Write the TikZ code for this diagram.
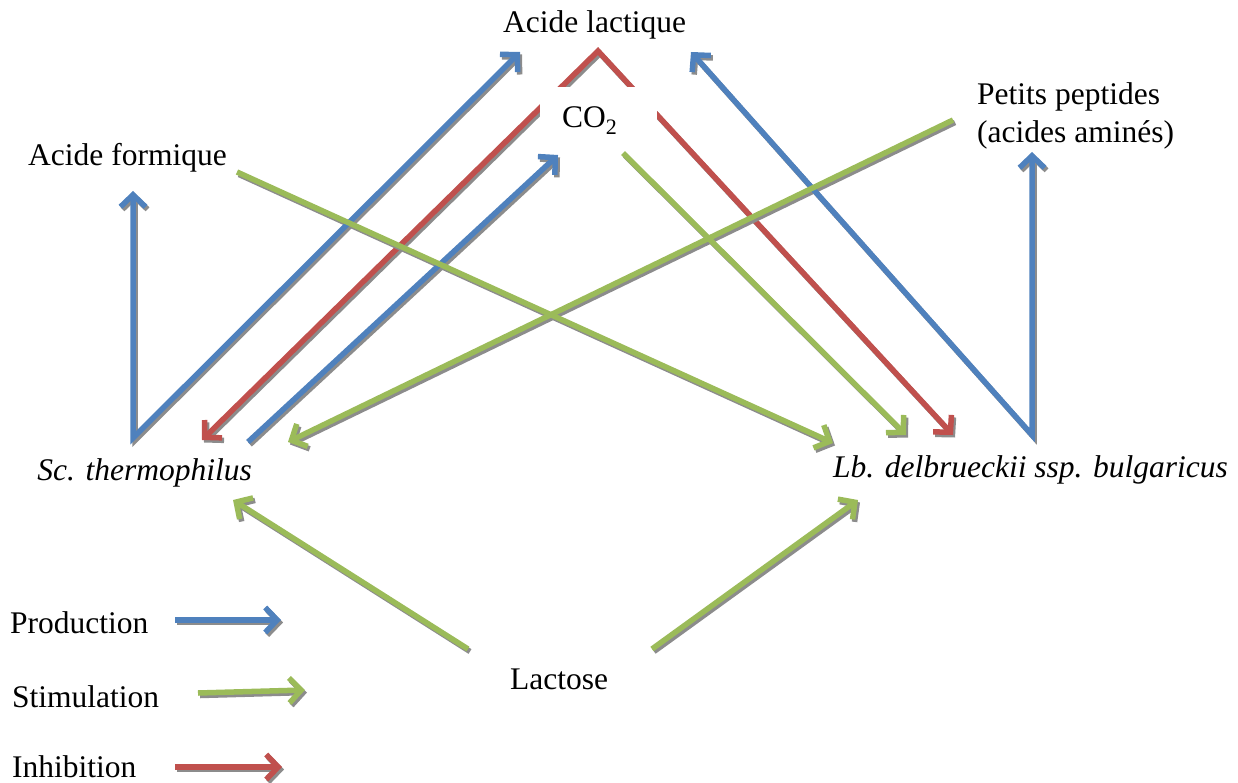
\documentclass[tikz,border=0pt]{standalone}
\usepackage{fontspec}
\setmainfont{Liberation Serif}
\usetikzlibrary{arrows.meta}
\definecolor{pblue}{HTML}{4F81BD}
\definecolor{pred}{HTML}{C0504D}
\definecolor{pgreen}{HTML}{9BBB59}
\definecolor{shade}{HTML}{8C8C8C}
\tikzset{
  lbl/.style={font=\fontsize{31.5}{38}\selectfont, inner sep=0pt},
  itl/.style={font=\fontsize{31.5}{38}\selectfont\itshape, inner sep=0pt},
  barb/.tip={Straight Barb[length=12pt,width=25pt]},
  flow/.style={line width=5.5pt, -barb},
  flowboth/.style={line width=5.5pt, barb-barb},
  prod/.style={flow, draw=pblue},
  prodboth/.style={flowboth, draw=pblue},
  stim/.style={flow, draw=pgreen},
  inhib/.style={flow, draw=pred},
  inhibboth/.style={flowboth, draw=pred},
  shadowed/.style={transform canvas={shift={(2pt,-2.5pt)}},
    prod/.style={flow, draw=shade}, prodboth/.style={flowboth, draw=shade},
    stim/.style={flow, draw=shade}, inhib/.style={flow, draw=shade},
    inhibboth/.style={flowboth, draw=shade}},
}
\newcommand{\redflow}{%
  \draw[inhibboth] (scR) -- (peak) -- (lbR);}
\newcommand{\otherflows}{%
  \draw[prodboth] (formTip) -- (scA) -- (lactL);
  \draw[prod] (scB) -- (co2In);
  \draw[prodboth] (lactR) -- (lbA) -- (pepTip);
  \draw[stim] (co2Out) -- (lbG);
  \draw[stim] (formOut) -- (lbF);
  \draw[stim] (pepOut) -- (scG);
  \draw[stim] (lacL) -- (scL);
  \draw[stim] (lacR) -- (lbL);
  \draw[prod] (legPa) -- (legPb);
  \draw[stim] (legSa) -- (legSb);
  \draw[inhib] (legIa) -- (legIb);}
\begin{document}
\begin{tikzpicture}[x=1pt,y=-1pt]
\useasboundingbox (0,0) rectangle (1238,783);

% anchor points of connectors
\coordinate (scA) at (133,438);
\coordinate (formTip) at (133,191);
\coordinate (lactL) at (520,52);
\coordinate (peak) at (598,51);
\coordinate (scR) at (202,440);
\coordinate (lbR) at (953,435);
\coordinate (scB) at (248,442);
\coordinate (co2In) at (558,155);
\coordinate (co2Out) at (623,153);
\coordinate (lbG) at (906,435);
\coordinate (formOut) at (237,172);
\coordinate (lbF) at (833,443);
\coordinate (pepOut) at (953,120);
\coordinate (scG) at (288,442);
\coordinate (lbA) at (1032,435);
\coordinate (lactR) at (691,52);
\coordinate (pepTip) at (1032,152);
\coordinate (lacL) at (468,649);
\coordinate (scL) at (233,500);
\coordinate (lacR) at (652,649);
\coordinate (lbL) at (858,500);
\coordinate (legPa) at (175,620);
\coordinate (legPb) at (281,620);
\coordinate (legSa) at (198,693);
\coordinate (legSb) at (305,690);
\coordinate (legIa) at (175,767);
\coordinate (legIb) at (282,767);

% inhibition (red), behind the CO2 label
\begin{scope}[shadowed]\redflow\end{scope}
\redflow

% labels
\node[lbl, anchor=base west] (lact) at (503,33) {Acide lactique};
\node[lbl, anchor=base west, fill=white, inner xsep=0pt, inner ysep=20pt] (co2) at (540,128) {\hspace*{22pt}CO\textsubscript{2}\hspace*{40pt}};
\node[lbl, anchor=base west] (form) at (28,166) {Acide formique};
\node[lbl, anchor=base west] (pep1) at (977,105) {Petits peptides};
\node[lbl, anchor=base west] (pep2) at (977,143) {(acides aminés)};
\node[itl, anchor=base east] (sc) at (252,480) {Sc. thermophilus};
\node[itl, anchor=base west] (lb) at (833,477) {Lb. delbrueckii ssp. bulgaricus};
\node[lbl, anchor=base west] (lac) at (510,689) {Lactose};
\node[lbl, anchor=base west] (lgP) at (10,633) {Production};
\node[lbl, anchor=base west] (lgS) at (12,707) {Stimulation};
\node[lbl, anchor=base west] (lgI) at (12,777) {Inhibition};

% production and stimulation arrows, with their shadows
\begin{scope}[shadowed]\otherflows\end{scope}
\otherflows
\end{tikzpicture}
\end{document}
